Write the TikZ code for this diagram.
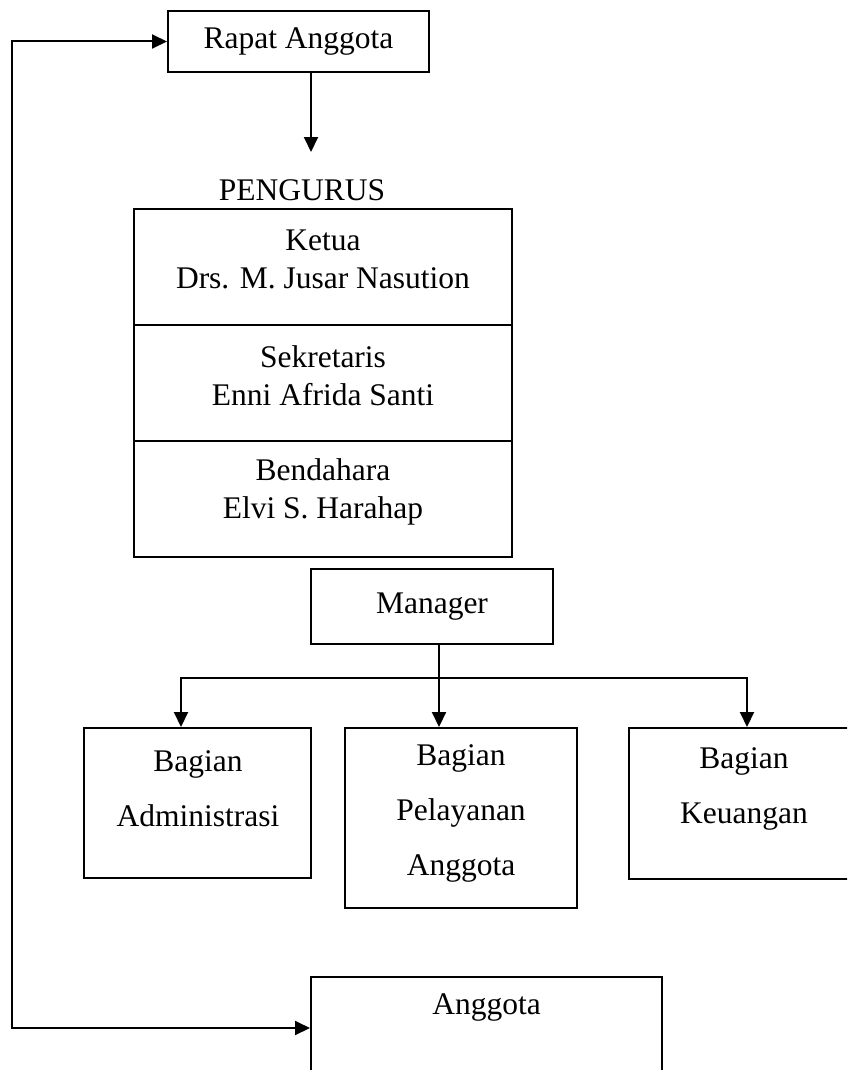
\documentclass[tikz,border=0pt]{standalone}
\usepackage{fontspec}
\setmainfont{Liberation Serif}
\usetikzlibrary{positioning, arrows.meta}

\begin{document}
\begin{tikzpicture}[x=0.5pt, y=-0.5pt, line width=1pt,
  box/.style={draw, rectangle, inner sep=0pt},
  txt/.style={align=center, inner sep=0pt, font=\fontsize{15.75}{19}\selectfont},
  widetxt/.style={txt, font=\fontsize{15.75}{27.5}\selectfont},
  arr/.style={-{Triangle[length=7.5pt, width=7pt]}},
  arrboth/.style={{Triangle[length=7.5pt, width=7pt]}-{Triangle[length=7.5pt, width=7pt]}}]
  \useasboundingbox (0,0) rectangle (847,1070);
  \clip (0,0) rectangle (847,1070);
  % rapat anggota
  \node[box, txt, minimum width=130.5pt, minimum height=30.5pt] (rapat) at (298.5,41.5) {Rapat Anggota};
  \coordinate (pgtop) at (311,152);
  \draw[arr] (rapat.south -| pgtop) -- (pgtop);
  \node[txt] (pengurus) at (302,190) {PENGURUS};
  % pengurus
  \foreach \n/\y/\role/\who in {ketua/267/Ketua/Drs. M. Jusar Nasution, sekretaris/383/Sekretaris/Enni Afrida Santi, bendahara/499/Bendahara/Elvi S. Harahap} {
    \node[box, minimum width=188.75pt, minimum height=58pt] (\n) at (323,\y) {};
    \node[txt] (\n-label) at (323,\y-7.5) {\role\\\who};
  }
  % manager and bagian
  \node[box, txt, minimum width=121pt, minimum height=37.5pt] (manager) at (432,606.5) {Manager};
  \node[box, minimum width=113.5pt, minimum height=75pt] (admin) at (197.5,803) {};
  \node[box, minimum width=116pt, minimum height=90pt] (pelayanan) at (461,818) {};
  \node[box, minimum width=115pt, minimum height=75.5pt] (keuangan) at (744,803.5) {};
  \node[widetxt] (admin-label) at (198,788.5) {Bagian\\Administrasi};
  \node[widetxt] (pelayanan-label) at (461,813) {Bagian\\Pelayanan\\Anggota};
  \node[widetxt] (keuangan-label) at (744,789) {Bagian\\Keuangan};
  \coordinate (split) at (439,678);
  \coordinate (busL) at (181,678);
  \coordinate (busR) at (747,678);
  \draw (manager.south -| split) -- (split);
  \draw[arr] (split) -| (admin.north -| busL);
  \draw[arr] (split) -| (keuangan.north -| busR);
  \draw[arr] (split) -- (split |- pelayanan.north);
  % anggota, back to rapat
  \node[box, minimum width=175.5pt, minimum height=51pt] (anggota) at (486.5,1028) {};
  \node[txt] (anggota-label) at (486.5,1007) {Anggota};
  \coordinate (back) at (12,1028);
  \draw[arrboth] (anggota.west) -- (back) |- (rapat.west);
\end{tikzpicture}
\end{document}
